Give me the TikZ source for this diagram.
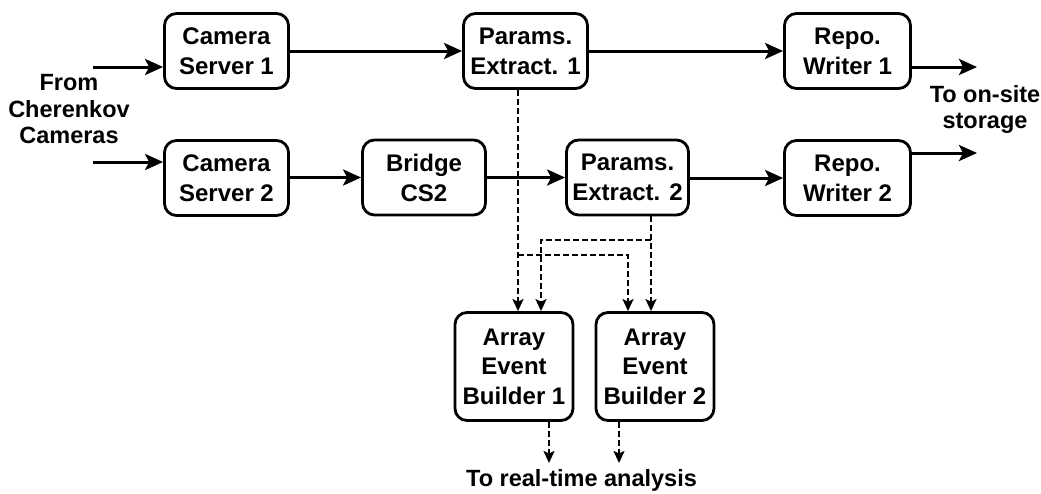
\documentclass[tikz,border=0pt]{standalone}
\usepackage{fontspec}
\setmainfont{Liberation Sans}
\usetikzlibrary{arrows.meta}
\begin{document}
\begin{tikzpicture}[x=1pt,y=-1pt,
  box/.style={draw,line width=2.8pt,rounded corners=12pt,inner sep=0pt,
    minimum width=124pt,minimum height=75pt,align=center,
    font=\bfseries\fontsize{24}{30}\selectfont},
  aeb/.style={box,minimum width=118pt,minimum height=108pt,
    font=\bfseries\fontsize{24}{29.5}\selectfont},
  lbl/.style={inner sep=0pt,align=center,anchor=north,
    font=\bfseries\fontsize{23.5}{26.5}\selectfont},
  arr/.style={line width=3pt,-{Stealth[length=18pt,width=16pt,inset=4pt]}},
  darr/.style={line width=1.8pt,dash pattern=on 6pt off 3pt,
    -{Stealth[length=12pt,width=11pt,inset=2.5pt]}}]
\useasboundingbox (0,0) rectangle (1041,493);
% boxes
\node[box] (cs1) at (226.5,51) {Camera\\Server 1};
\node[box] (cs2) at (226.5,178) {Camera\\Server 2};
\node[box] (pe1) at (525.5,51) {Params.\\Extract. 1};
\node[box,minimum width=123pt] (br) at (424,177.5) {Bridge\\CS2};
\node[box,minimum width=122pt] (pe2) at (627.5,177.5) {Params.\\Extract. 2};
\node[box,minimum width=126pt] (rw1) at (847.5,51) {Repo.\\Writer 1};
\node[box,minimum width=126pt] (rw2) at (847.5,178) {Repo.\\Writer 2};
\node[aeb] (aeb1) at (514,366.5) {Array\\Event\\Builder 1};
\node[aeb] (aeb2) at (655,366.5) {Array\\Event\\Builder 2};
% labels
\node[lbl] (from) at (69,74.5) {From\\Cherenkov\\Cameras};
\node[lbl] (store) at (985,85) {To on-site\\storage};
\node[lbl] (rta) at (581.5,469) {To real-time analysis};
% free ends and junctions
\coordinate (in1) at (93,67);
\coordinate (in2) at (93,162);
\coordinate (out1) at (977,67);
\coordinate (out2) at (977,153);
\coordinate (j1) at (518,255);
\coordinate (j2) at (628,255);
\coordinate (j3) at (651,240);
\coordinate (j4) at (541,240);
\coordinate (o1) at (549,463);
\coordinate (o2) at (619,463);
% solid connectors
\draw[arr] (in1) -- (cs1.west |- in1);
\draw[arr] (in2) -- (cs2.west |- in2);
\draw[arr] (cs1) -- (pe1);
\draw[arr] (pe1) -- (rw1);
\draw[arr] (rw1.east |- out1) -- (out1);
\draw[arr] (cs2.east |- br) -- (br);
\draw[arr] (br) -- (pe2);
\draw[arr] (pe2.east |- rw2) -- (rw2);
\draw[arr] (rw2.east |- out2) -- (out2);
% dashed connectors
\draw[darr] (pe1.south -| j1) -- (aeb1.north -| j1);
\draw[darr] (j1) -- (j2) -- (aeb2.north -| j2);
\draw[darr] (pe2.south -| j3) -- (aeb2.north -| j3);
\draw[darr] (j3) -- (j4) -- (aeb1.north -| j4);
\draw[darr] (aeb1.south -| o1) -- (o1);
\draw[darr] (aeb2.south -| o2) -- (o2);
\end{tikzpicture}
\end{document}
